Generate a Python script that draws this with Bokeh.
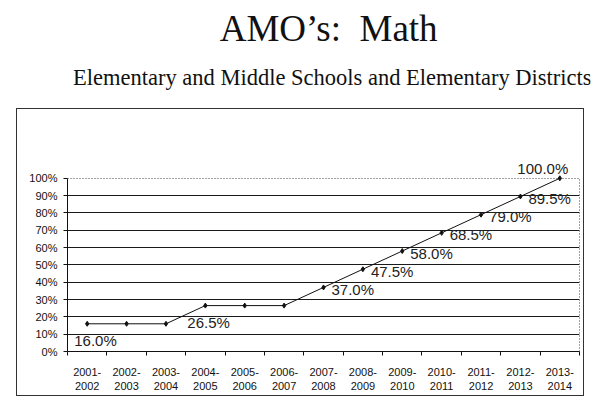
from bokeh.plotting import figure
from bokeh.models import Label, FixedTicker, Range1d, LinearAxis, Grid
from bokeh.layouts import column
from bokeh.core.properties import value
from bokeh.embed import file_html
from bokeh.resources import INLINE

# ---- data ----
years = ["2001-2002", "2002-2003", "2003-2004", "2004-2005", "2005-2006",
         "2006-2007", "2007-2008", "2008-2009", "2009-2010", "2010-2011",
         "2011-2012", "2012-2013", "2013-2014"]
amo_math = [16.0, 16.0, 16.0, 26.5, 26.5, 26.5, 37.0, 47.5, 58.0, 68.5, 79.0, 89.5, 100.0]
labeled_idx = [0, 3, 6, 7, 8, 9, 10, 11, 12]
y_ticks = [0, 10, 20, 30, 40, 50, 60, 70, 80, 90, 100]
y_tick_labels = ["0%", "10%", "20%", "30%", "40%", "50%", "60%", "70%", "80%", "90%", "100%"]
title_text = "AMO\u2019s:\u00a0 Math"
subtitle_text = "Elementary and Middle Schools and Elementary Districts"

# ---- styles for data labels (pixel offsets, alignment) ----
label_style = {
    0: dict(x_offset=-13, y_offset=-17, text_align="left"),
    3: dict(x_offset=-18, y_offset=-17, text_align="left"),
    12: dict(x_offset=-17, y_offset=10, text_align="center"),
}
default_label_style = dict(x_offset=8, y_offset=-2, text_align="left")

INK = "#111111"

# ---------------- title block ----------------
TW, TH = 596, 108
ft = figure(width=TW, height=TH, output_backend="svg", toolbar_location=None,
            x_range=Range1d(0, TW), y_range=Range1d(0, TH),
            x_axis_type=None, y_axis_type=None, min_border=0)
ft.outline_line_color = None
ft.text(x=[307], y=[TH - 28], text=[title_text], text_font=value("Liberation Serif"),
        text_font_size="37px", text_color=INK, text_align="center", text_baseline="middle")
ft.text(x=[311], y=[TH - 77], text=[subtitle_text], text_font=value("Liberation Serif"),
        text_font_size="22.5px", text_color=INK, text_align="center", text_baseline="middle")

# ---------------- chart ----------------
xs = list(range(len(years)))

p = figure(width=568, height=288, output_backend="svg", toolbar_location=None,
           x_range=Range1d(-0.5, len(years) - 0.5), y_range=Range1d(0, 112),
           min_border_left=50, min_border_right=6, min_border_top=48,
           min_border_bottom=46)
p.margin = (0, 0, 0, 16)
p.styles = {"border": "1px solid #333333", "box-sizing": "border-box"}
p.background_fill_color = "white"
p.border_fill_color = "white"
p.outline_line_color = None

# grid
p.xgrid.grid_line_color = None
p.ygrid.ticker = FixedTicker(ticks=y_ticks[1:-1])
p.ygrid.grid_line_color = "#1a1a1a"
p.ygrid.grid_line_width = 1.2
top_grid = Grid(dimension=1, ticker=FixedTicker(ticks=[y_ticks[-1]]),
                grid_line_color="#444444", grid_line_dash="1 2", grid_line_width=1)
p.add_layout(top_grid)

# y axis
p.yaxis.ticker = FixedTicker(ticks=y_ticks)
p.yaxis.bounds = (y_ticks[0], y_ticks[-1])
p.yaxis.major_label_overrides = {t: l for t, l in zip(y_ticks, y_tick_labels)}
p.yaxis.major_label_text_font = "Liberation Sans"
p.yaxis.major_label_text_font_size = "11px"
p.yaxis.major_label_text_color = INK
p.yaxis.major_tick_out = 4
p.yaxis.major_tick_in = 0
p.yaxis.minor_tick_line_color = None
p.yaxis.axis_line_color = INK
p.yaxis.major_tick_line_color = INK
p.yaxis.major_label_standoff = 6

# right dotted border of plot area
right_axis = LinearAxis(bounds=(y_ticks[0], y_ticks[-1]), ticker=FixedTicker(ticks=[]),
                        axis_line_color="#444444", axis_line_dash="1 2",
                        major_tick_line_color=None, minor_tick_line_color=None,
                        major_label_text_font_size="0px")
p.add_layout(right_axis, "right")

# x axis
boundaries = [i - 0.5 for i in range(len(years) + 1)]
p.xaxis.ticker = FixedTicker(ticks=xs, minor_ticks=boundaries)
p.xaxis.major_label_overrides = {i: y.replace("-", "-\n") for i, y in zip(xs, years)}
p.xaxis.major_label_text_font = "Liberation Sans"
p.xaxis.major_label_text_font_size = "11px"
p.xaxis.major_label_text_color = INK
p.xaxis.major_tick_line_color = None
p.xaxis.minor_tick_line_color = INK
p.xaxis.minor_tick_out = 4
p.xaxis.minor_tick_in = 0
p.xaxis.axis_line_color = INK
p.xaxis.major_label_standoff = 8

# line + markers
p.line(xs, amo_math, line_color=INK, line_width=1)
p.scatter(xs, amo_math, marker="diamond", size=5, color=INK)

# data labels
for i in labeled_idx:
    st = label_style.get(i, default_label_style)
    p.add_layout(Label(x=xs[i], y=amo_math[i], text=f"{amo_math[i]:.1f}%",
                       text_font="Liberation Sans", text_font_size="15px",
                       text_color="#222222", text_baseline="middle", **st))

layout = column(ft, p)
open("out.html", "w").write(file_html(layout, INLINE))
